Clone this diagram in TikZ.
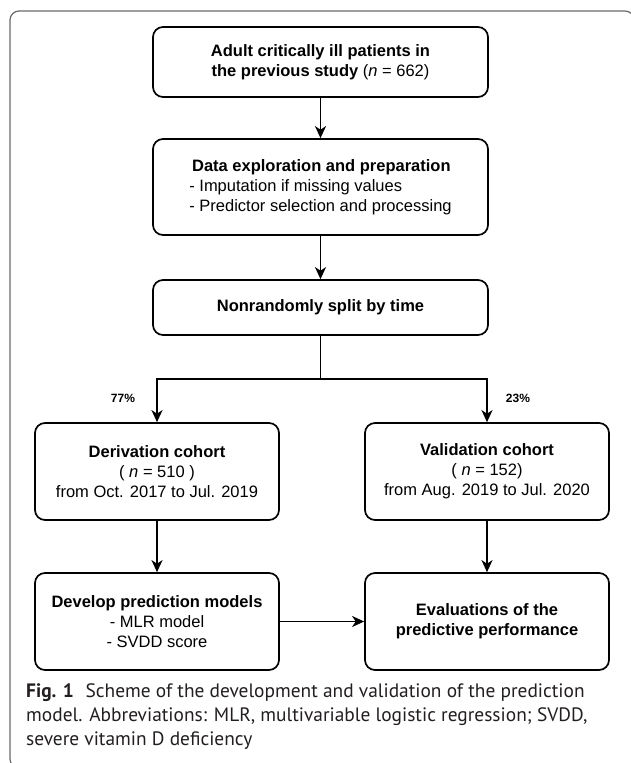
\documentclass[tikz,border=0pt]{standalone}
\usepackage{fontspec}
\setmainfont{Liberation Sans}
\newfontfamily\capfont{PT Sans}
\usetikzlibrary{arrows.meta}
\definecolor{framegray}{HTML}{6A6A6A}
\definecolor{captext}{HTML}{231F20}
\tikzset{
  box/.style={draw=black, line width=1.7pt, rounded corners=10pt, inner sep=0pt,
    font=\fontsize{16.5}{20}\selectfont, text=black},
  wide/.style={box, minimum width=335pt},
  narrow/.style={box, minimum width=244pt, minimum height=97pt},
  arr/.style={line width=1.7pt, -{Stealth[length=12pt,width=11pt,inset=3.5pt]}},
  link/.style={line width=1.7pt},
  pct/.style={font=\bfseries\fontsize{12}{14}\selectfont},
  captxt/.style={font=\capfont\fontsize{19.4}{24}\selectfont, text=captext, anchor=base west, inner sep=0pt}
}
\begin{document}
\begin{tikzpicture}[x=1pt,y=-1pt]
\useasboundingbox (0,0) rectangle (630,763);
\fill[white] (0,0) rectangle (630,763);
\draw[framegray, line width=1.2pt, rounded corners=9pt] (10,11) rectangle (634,768);

\node[wide, minimum height=70pt, align=center] (b1) at (320.5,62)
  {\textbf{Adult critically ill patients in}\\\textbf{the previous study} (\textit{n} = 662)};
\node[wide, minimum height=96pt, align=left] (b2) at (320.5,187)
  {\,\textbf{Data exploration and preparation}\\- Imputation if missing values\\- Predictor selection and processing};
\node[wide, minimum height=55pt] (b3) at (320.5,307.5) {\textbf{Nonrandomly split by time}};

\node[narrow, align=center] (der) at (157,471.5)
  {\textbf{Derivation cohort}\\( \textit{n} = 510 )\\from Oct. 2017 to Jul. 2019};
\node[narrow, align=center] (val) at (487,471.5)
  {\textbf{Validation cohort}\\( \textit{n} = 152)\\from Aug. 2019 to Jul. 2020};
\node[narrow, align=center] (dev) at (157,621.5)
  {\textbf{Develop prediction models}\\- MLR model\\- SVDD score};
\node[narrow, align=center] (eva) at (487,621.5)
  {\textbf{Evaluations of the}\\\textbf{predictive performance}};

\coordinate (split) at (320.5,379);
\draw[arr] (b1) -- (b2);
\draw[arr] (b2) -- (b3);
\draw[link] (b3.south) -- (split);
\draw[arr] (split) -| (der.north);
\draw[arr] (split) -| (val.north);
\draw[arr] (der) -- (dev);
\draw[arr] (val) -- (eva);
\draw[arr] (dev) -- (eva);

\node[pct] (p77) at (123,398) {77\%};
\node[pct] (p23) at (518,398) {23\%};

\node[captxt] (cap1) at (26,697) {\textbf{Fig. 1}\hspace{0.6em}Scheme of the development and validation of the prediction};
\node[captxt] (cap2) at (26,721) {model. Abbreviations: MLR, multivariable logistic regression; SVDD,};
\node[captxt] (cap3) at (26,745) {severe vitamin D deficiency};
\end{tikzpicture}
\end{document}
